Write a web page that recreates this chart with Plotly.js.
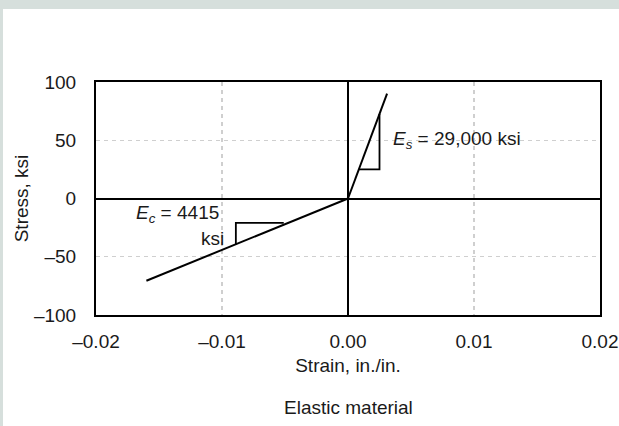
<!DOCTYPE html>
<html>
<head>
<meta charset="utf-8">
<script src="https://cdn.plot.ly/plotly-3.0.1.min.js"></script>
<style>
html,body{margin:0;padding:0;background:#d6dfdc;width:619px;height:426px;overflow:hidden;}
#chart{position:absolute;left:3px;top:9px;width:616px;height:417px;background:#fff;}
</style>
</head>
<body>
<div id="chart"></div>
<script>
// Data
const steelStrain = [0, 0.0031];
const steelStress = [0, 90];
const concreteStrain = [0, -0.016];
const concreteStress = [0, -70.6];
const steelTriStrain = [0.00086, 0.0025, 0.0025];
const steelTriStress = [25, 25, 72.5];
const concTriStrain = [-0.0051, -0.0089, -0.0089];
const concTriStress = [-21, -21, -39.3];
const xTickVals = [-0.02, -0.01, 0, 0.01, 0.02];
const xTickText = ['\u20130.02', '\u20130.01', '0.00', '0.01', '0.02'];
const yTickVals = [-100, -50, 0, 50, 100];
const yTickText = ['\u2013100', '\u201350', '0', '50', '100'];

const FONT = 'Liberation Sans, Arial, sans-serif';
const FS = 19;
const lineStyle = {color: '#000', width: 2};

const traces = [
  {x: steelStrain, y: steelStress, mode: 'lines', line: lineStyle, hoverinfo: 'skip'},
  {x: concreteStrain, y: concreteStress, mode: 'lines', line: lineStyle, hoverinfo: 'skip'},
  {x: steelTriStrain, y: steelTriStress, mode: 'lines', line: {color: '#000', width: 1.8}, hoverinfo: 'skip'},
  {x: concTriStrain, y: concTriStress, mode: 'lines', line: {color: '#000', width: 1.8}, hoverinfo: 'skip'}
];

const layout = {
  width: 616, height: 417,
  margin: {l: 93, r: 19, t: 73, b: 111},
  paper_bgcolor: '#ffffff', plot_bgcolor: '#ffffff',
  showlegend: false,
  font: {family: FONT, size: FS, color: '#1a1a1a'},
  xaxis: {
    range: [-0.02, 0.02], tickvals: xTickVals, ticktext: xTickText,
    showline: true, mirror: true, linecolor: '#000', linewidth: 2,
    showgrid: true, gridcolor: '#cfcfcf', gridwidth: 1.2, griddash: '4px,4px',
    zeroline: true, zerolinecolor: '#000', zerolinewidth: 2,
    ticks: '', ticklabelstandoff: 8,
    title: {text: 'Strain, in./in.', font: {family: FONT, size: FS}, standoff: 8},
    automargin: 'bottom', fixedrange: true
  },
  yaxis: {
    range: [-100, 100], tickvals: yTickVals, ticktext: yTickText,
    showline: true, mirror: true, linecolor: '#000', linewidth: 2,
    showgrid: true, gridcolor: '#cfcfcf', gridwidth: 1.2, griddash: '4px,4px',
    zeroline: true, zerolinecolor: '#000', zerolinewidth: 2,
    ticks: '', ticklabelstandoff: 14,
    title: {text: 'Stress, ksi', font: {family: FONT, size: FS}, standoff: 0},
    automargin: 'left', fixedrange: true
  },
  annotations: [
    {xref: 'x', yref: 'y', x: 0.0034, y: 50, xanchor: 'left', yanchor: 'middle',
     text: '<i>E</i><sub><i>s</i></sub> = 29,000 ksi', showarrow: false, font: {family: FONT, size: FS}},
    {xref: 'x', yref: 'y', x: -0.0170, y: -13, xanchor: 'left', yanchor: 'middle',
     text: '<i>E</i><sub><i>c</i></sub> = 4415', showarrow: false, font: {family: FONT, size: FS}},
    {xref: 'x', yref: 'y', x: -0.0097, y: -34, xanchor: 'right', yanchor: 'middle',
     text: 'ksi', showarrow: false, font: {family: FONT, size: FS}},
    {xref: 'paper', yref: 'paper', x: 0.5, y: 0, yshift: -92, xanchor: 'center', yanchor: 'middle',
     text: 'Elastic material', showarrow: false, font: {family: FONT, size: FS}}
  ]
};

Plotly.newPlot('chart', traces, layout, {displayModeBar: false, staticPlot: true});
</script>
</body>
</html>
